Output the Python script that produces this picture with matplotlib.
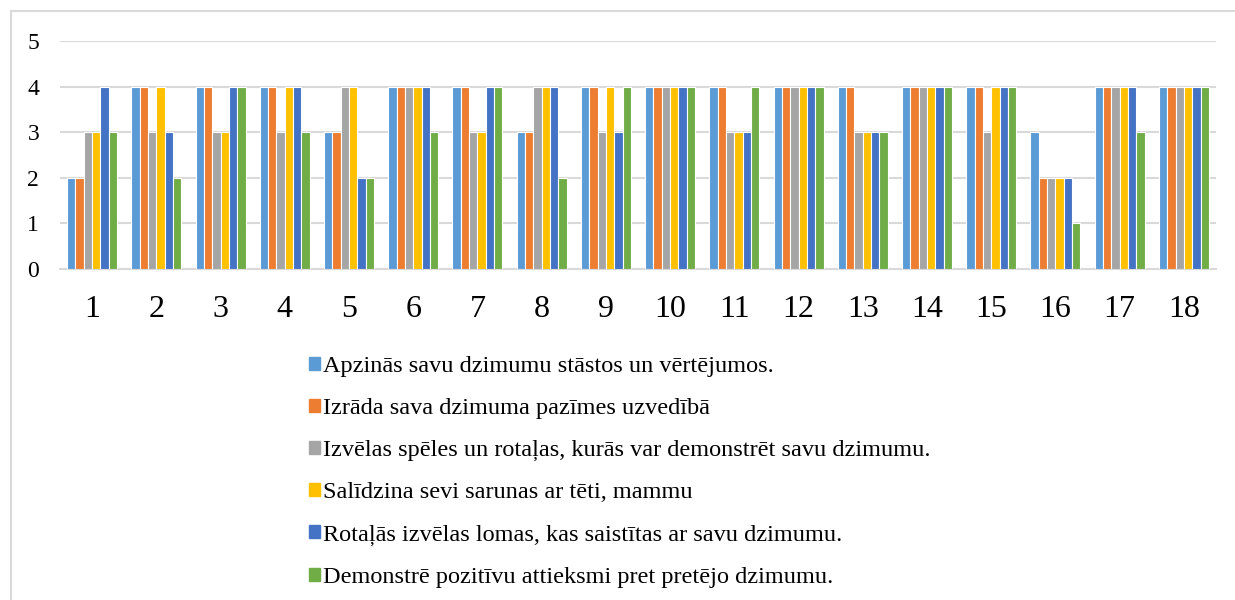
import numpy as np
import matplotlib.pyplot as plt
from matplotlib.lines import Line2D

plt.rcParams['font.family'] = ['Liberation Serif', 'DejaVu Serif']

groups = [str(i) for i in range(1, 19)]
series_names = [
    "Apzinās savu dzimumu stāstos un vērtējumos.",
    "Izrāda sava dzimuma pazīmes uzvedībā",
    "Izvēlas spēles un rotaļas, kurās var demonstrēt savu dzimumu.",
    "Salīdzina sevi sarunas ar tēti, mammu",
    "Rotaļās izvēlas lomas, kas saistītas ar savu dzimumu.",
    "Demonstrē pozitīvu attieksmi pret pretējo dzimumu.",
]
apzinas   = [2, 4, 4, 4, 3, 4, 4, 3, 4, 4, 4, 4, 4, 4, 4, 3, 4, 4]
izrada    = [2, 4, 4, 4, 3, 4, 4, 3, 4, 4, 4, 4, 4, 4, 4, 2, 4, 4]
izvelas   = [3, 3, 3, 3, 4, 4, 3, 4, 3, 4, 3, 4, 3, 4, 3, 2, 4, 4]
salidzina = [3, 4, 3, 4, 4, 4, 3, 4, 4, 4, 3, 4, 3, 4, 4, 2, 4, 4]
rotalas   = [4, 3, 4, 4, 2, 4, 4, 4, 3, 4, 3, 4, 3, 4, 4, 2, 4, 4]
demonstre = [3, 2, 4, 3, 2, 3, 4, 2, 4, 4, 4, 4, 3, 4, 4, 1, 3, 4]
colors = ['#5B9BD5', '#ED7D31', '#A5A5A5', '#FFC000', '#4472C4', '#70AD47']

data = [apzinas, izrada, izvelas, salidzina, rotalas, demonstre]

fig = plt.figure(figsize=(12.35, 6), dpi=100)
ax = fig.add_axes([60/1235, 1-269/600, 1156/1235, 228/600])

x = np.arange(len(groups))
w = 0.13
for i, (vals, c) in enumerate(zip(data, colors)):
    ax.bar(x + (i - 2.5)*w, vals, w, color=c, edgecolor='white', linewidth=0.8, zorder=3)

ax.set_xlim(-0.5, len(groups) - 0.5)
ax.set_ylim(0, 5)
ax.set_yticks(range(0, 6))
ax.set_xticks(x)
ax.set_xticklabels(groups, fontsize=23)
ax.tick_params(axis='y', labelsize=17, length=0, pad=15)
ax.tick_params(axis='x', length=0, pad=19)
ax.grid(axis='y', color='#d9d9d9', linewidth=1.5, zorder=0)
for s in ['top', 'right', 'left']:
    ax.spines[s].set_visible(False)
ax.spines['bottom'].set_color('#d9d9d9')
ax.spines['bottom'].set_linewidth(1.5)

# outer chart border (left and top visible)
fig.add_artist(Line2D([11/1235, 11/1235], [0, 1-11/600], color='#d9d9d9', linewidth=1.5))
fig.add_artist(Line2D([11/1235, 1], [1-11/600, 1-11/600], color='#d9d9d9', linewidth=1.5))

handles = [plt.Rectangle((0, 0), 1, 1, color=c) for c in colors]
fig.legend(handles, series_names, loc='upper left', bbox_to_anchor=(299/1235, 1-346/600),
           frameon=False, fontsize=17.5, handlelength=0.45, handleheight=0.45,
           handletextpad=0.15, labelspacing=0.87, borderaxespad=0)

fig.savefig('out.png', dpi=100)
